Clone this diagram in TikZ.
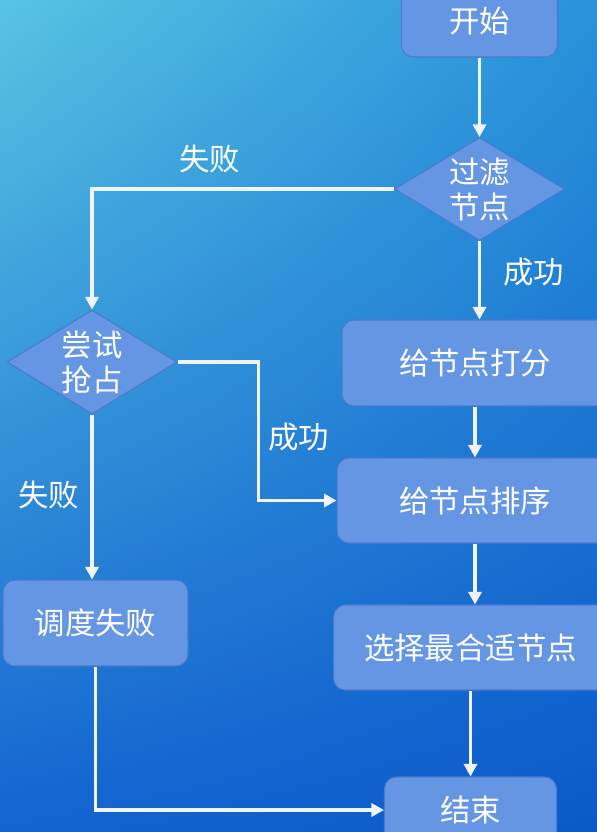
\documentclass[tikz,border=0pt]{standalone}
\usepackage{fontspec}
\setmainfont{Noto Sans CJK SC}
\usetikzlibrary{arrows.meta,positioning,calc,shapes.geometric,shadings}

\definecolor{bgUL}{RGB}{88,196,226}
\definecolor{bgUR}{RGB}{40,146,218}
\definecolor{bgLL}{RGB}{18,100,208}
\definecolor{bgLR}{RGB}{12,88,202}
\definecolor{boxfill}{RGB}{100,150,228}
\definecolor{boxline}{RGB}{74,122,206}
\definecolor{arrowcol}{RGB}{240,244,248}

\begin{document}
\begin{tikzpicture}[x=0.02cm,y=-0.02cm,
    every node/.style={font=\fontsize{17.3pt}{20pt}\selectfont, text=white},
    box/.style={draw=boxline, fill=boxfill, line width=0.6pt, rounded corners=0.24cm, align=center},
    decision/.style={diamond, draw=boxline, fill=boxfill, line width=0.6pt, aspect=1.65, inner sep=0pt, align=center},
    flow/.style={draw=arrowcol, line width=2.1pt, -{Triangle[length=0.25cm,width=0.26cm]}},
    lbl/.style={inner sep=0pt}]
      \useasboundingbox (0,0) rectangle (597,832);
      \clip (0,0) rectangle (597,832);
      \shade[upper left=bgUL, upper right=bgUR, lower left=bgLL, lower right=bgLR] (0,0) rectangle (597,832);

      % main line
      \node[box, minimum width=3.12cm, minimum height=1.44cm] (start) at (479.5,21) {开始};
      \node[decision, minimum width=3.4cm, minimum height=2.06cm] (filter) at (479.5,189) {过滤\\节点};
      \node[box, minimum width=5.32cm, minimum height=1.72cm] (score) at (475,363) {给节点打分};
      \node[box, minimum width=5.52cm, minimum height=1.7cm] (sort) at (475,500.5) {给节点排序};
      \node[box, minimum width=5.48cm, minimum height=1.7cm] (best) at (470.5,647.5) {选择最合适节点};
      \node[box, minimum width=3.44cm, minimum height=1.32cm] (end) at (470.5,810) {结束};

      % preemption branch
      \node[decision, minimum width=3.4cm, minimum height=2.08cm] (try) at (92,362) {尝试\\抢占};
      \node[box, minimum width=3.7cm, minimum height=1.72cm] (fail) at (95.5,623) {调度失败};

      \draw[flow] (start) -- (filter);
      \draw[flow] (filter.west) -| node[lbl, pos=0.305, above=0.28cm] (lblfail1) {失败} (try.north);
      \draw[flow] (filter.south) -- node[lbl, pos=0.4, right=0.44cm] (lblok1) {成功} (filter.south |- score.north);
      \draw[flow] (score) -- (sort);
      \draw[flow] (sort.south) -- (sort.south |- best.north);
      \draw[flow] (best) -- (end);
      \draw[flow] (try.east) -- ++(81,0) |- node[lbl, pos=0.27, right=0.16cm] (lblok2) {成功} (sort.west);
      \draw[flow] (try.south) -- node[lbl, pos=0.49, left=0.22cm] (lblfail2) {失败} (try.south |- fail.north);
      \draw[flow] (fail.south) |- (end.west);
\end{tikzpicture}
\end{document}
